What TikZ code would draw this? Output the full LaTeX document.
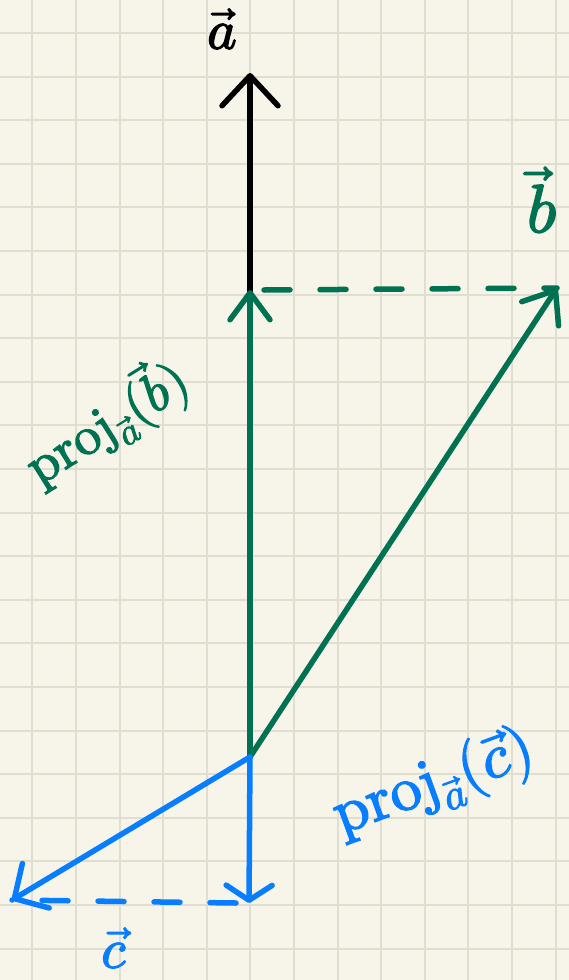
\documentclass[tikz,border=0pt]{standalone}
\usepackage{unicode-math}
\setmathfont{Latin Modern Math}[FakeBold=2.5]
\usetikzlibrary{arrows.meta}

\definecolor{paper}{RGB}{247,245,233}
\definecolor{gridgray}{RGB}{224,222,208}
\definecolor{inkgreen}{RGB}{0,114,82}
\definecolor{inkblue}{RGB}{8,126,255}

\begin{document}
\begin{tikzpicture}[
        x=1pt, y=-1pt,
        grid line/.style={draw=gridgray, line width=2pt},
        ink/.style={line width=5.5pt, line cap=round, line join=round},
        dashed ink/.style={ink, dash pattern=on 26pt off 30pt},
        vec label/.style={inner sep=0pt, font=\fontsize{56}{64}\selectfont}
    ]

    \useasboundingbox[fill=paper] (0,0) rectangle (569,980);

    % squared paper
    \foreach \i in {0,...,12}
        \draw[grid line] (32.3+43.6*\i,0) -- ++(0,980);
    \foreach \j in {0,...,21}
        \draw[grid line] (0,33+43.6*\j) -- ++(569,0);

    \coordinate (O) at (250,757);
    \coordinate (aTip) at (250,73);
    \coordinate (bTip) at (557,288);
    \coordinate (pbTip) at (250,290);
    \coordinate (pbFoot) at (264,290);
    \coordinate (cTip) at (12,900);
    \coordinate (pcTip) at (249,903);
    \coordinate (cFoot) at (236,903);

    % vector a
    \draw[ink, black, -{Straight Barb[length=30pt, width=56pt, round]}] (O) -- (aTip);

    % vector b and its projection
    \draw[ink, inkgreen, -{Straight Barb[length=27pt, width=40pt, round]}] (O) -- (pbTip);
    \draw[ink, inkgreen, -{Straight Barb[length=28pt, width=44pt, round]}] (O) -- (bTip);
    \draw[dashed ink, inkgreen] (pbFoot) -- (bTip);

    % vector c and its projection
    \draw[ink, inkblue, -{Straight Barb[length=25pt, width=52pt, round]}] (O) -- (cTip);
    \draw[ink, inkblue, -{Straight Barb[length=15pt, width=46pt, round]}] (O) -- (pcTip);
    \draw[dashed ink, inkblue] (cFoot) -- (cTip);

    \node[vec label, text=black] (aLabel) at (222,29) {$\vec{a}$};
    \node[vec label, text=inkgreen, font=\fontsize{68}{76}\selectfont] (bLabel) at (542,200) {$\vec{b}$};
    \node[vec label, text=inkblue] (cLabel) at (114,948) {$\vec{c}$};
    \node[vec label, text=inkgreen, rotate=32, font=\fontsize{54}{60}\selectfont] (projB) at (106,422)
        {$\symup{proj}_{\vec{a}}(\vec{b})$};
    \node[vec label, text=inkblue, rotate=20, font=\fontsize{62}{70}\selectfont] (projC) at (434,784)
        {$\symup{proj}_{\vec{a}}(\vec{c})$};

\end{tikzpicture}
\end{document}
